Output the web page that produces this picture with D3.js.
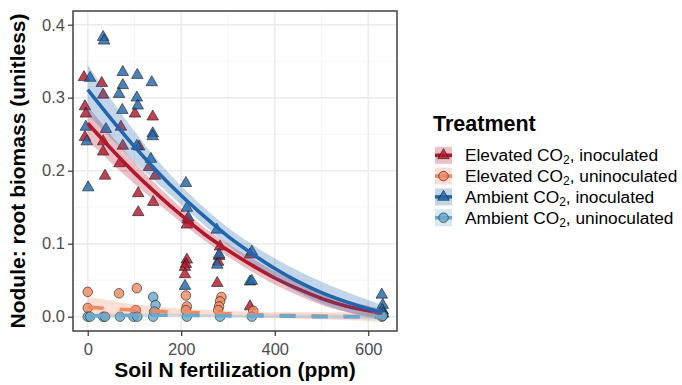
<!DOCTYPE html>
<html><head><meta charset="utf-8">
<script src="https://cdn.jsdelivr.net/npm/d3@7"></script>
<style>body{margin:0;background:#fff}svg{display:block;font-family:"Liberation Sans",Arial,sans-serif}</style>
</head><body><div id="chart"></div>
<script>
// ---- data ----
const categories = ["Elevated CO2, inoculated","Elevated CO2, uninoculated","Ambient CO2, inoculated","Ambient CO2, uninoculated"];
const seriesColors = ["#B2182B","#EF8A62","#2166AC","#67A9CF"];
const seriesShapes = ["triangle","circle","triangle","circle"];
const xTicks = [0,200,400,600];
const yTicks = [0.0,0.1,0.2,0.3,0.4];
const yTickLabels = ["0.0","0.1","0.2","0.3","0.4"];

// points [soil N (ppm, jittered as drawn), nodule:root biomass]
const elevInocPts = [[-8,0.328],[30,0.320],[33,0.304],[-6,0.288],[-4,0.278],[101,0.278],[139,0.274],[71,0.260],[-6,0.246],[33,0.240],[75,0.234],[110,0.233],[33,0.226],[68,0.210],[131,0.205],[37,0.193],[144,0.193],[108,0.169],[140,0.157],[108,0.143],[212,0.126],[214,0.133],[283,0.096],[281,0.083],[347,0.085],[212,0.078],[279,0.075],[210,0.072],[208,0.068],[208,0.058],[277,0.046],[347,0.014],[629,0.004],[631,0.008],[627,0.002]];
const elevUninocPts = [[0,0.034],[67,0.032],[105,0.039],[0,0.012],[103,0.009],[144,0.007],[210,0.029],[212,0.014],[210,0.009],[286,0.027],[283,0.021],[281,0.014],[279,0.009],[354,0.008],[630,0.002]];
const ambInocPts = [[33,0.383],[35,0.378],[5,0.327],[75,0.335],[106,0.331],[137,0.321],[75,0.317],[67,0.305],[105,0.300],[107,0.289],[74,0.283],[-4,0.260],[39,0.257],[139,0.251],[139,0.247],[-2,0.240],[105,0.234],[135,0.216],[1,0.177],[210,0.183],[212,0.149],[215,0.136],[276,0.119],[281,0.085],[351,0.089],[277,0.071],[208,0.042],[347,0.048],[351,0.049],[629,0.030],[631,0.016],[630,0.009],[632,0.004]];
const ambUninocPts = [[0,0],[5,0],[33,0],[37,0],[69,0],[98,0],[106,0],[140,0],[140,0.027],[145,0.016],[142,0.007],[212,0],[283,0],[351,0],[629,0],[631,0.001]];

// fitted smooths: x, fit, half-width of ribbon
const fitN = [0,50,100,150,200,250,300,350,400,450,500,550,600,630];
const elevInocFit   = [0.265,0.230,0.197,0.167,0.139,0.113,0.091,0.071,0.053,0.038,0.025,0.015,0.008,0.004];
const elevInocSe    = [0.024,0.019,0.015,0.012,0.010,0.009,0.009,0.009,0.009,0.009,0.009,0.008,0.007,0.006];
const elevUninocFit = [0.013,0.011,0.009,0.0075,0.006,0.005,0.004,0.003,0.002,0.0015,0.001,0.0005,0.000,0.000];
const elevUninocSe  = [0.014,0.011,0.008,0.006,0.005,0.0045,0.004,0.004,0.004,0.0045,0.005,0.0055,0.006,0.007];
const ambInocFit    = [0.311,0.271,0.233,0.198,0.166,0.137,0.110,0.087,0.066,0.048,0.033,0.021,0.011,0.006];
const ambInocSe     = [0.034,0.027,0.021,0.016,0.013,0.012,0.012,0.013,0.014,0.015,0.015,0.014,0.012,0.010];
const ambUninocFit  = [0.001,0.0015,0.002,0.002,0.002,0.0015,0.001,0.001,0.001,0.0005,0.000,0.000,0.000,0.000];
const ambUninocSe   = [0.003,0.0025,0.002,0.002,0.002,0.002,0.002,0.002,0.002,0.002,0.0025,0.003,0.0035,0.004];

const xTitle = "Soil N fertilization (ppm)";
const yTitle = "Nodule: root biomass (unitless)";
const legendTitle = "Treatment";

// ---- build ----
const W=682,H=385;
const panel={l:73,r:397,t:11,b:331};
const svg=d3.select("#chart").append("svg").attr("width",W).attr("height",H);
const x=d3.scaleLinear().domain([-31.5,661.5]).range([panel.l,panel.r]);
const y=d3.scaleLinear().domain([-0.0196,0.4188]).range([panel.b,panel.t]);

const g=svg.append("g");
// grid
const xMinor=[100,300,500], yMinor=[0.05,0.15,0.25,0.35];
g.selectAll(".xmin").data(xMinor).join("line").attr("x1",d=>x(d)).attr("x2",d=>x(d)).attr("y1",panel.t).attr("y2",panel.b).attr("stroke","#f2f2f2").attr("stroke-width",0.8);
g.selectAll(".ymin").data(yMinor).join("line").attr("y1",d=>y(d)).attr("y2",d=>y(d)).attr("x1",panel.l).attr("x2",panel.r).attr("stroke","#f2f2f2").attr("stroke-width",0.8);
g.selectAll(".xmaj").data(xTicks).join("line").attr("x1",d=>x(d)).attr("x2",d=>x(d)).attr("y1",panel.t).attr("y2",panel.b).attr("stroke","#ebebeb").attr("stroke-width",1.5);
g.selectAll(".ymaj").data(yTicks).join("line").attr("y1",d=>y(d)).attr("y2",d=>y(d)).attr("x1",panel.l).attr("x2",panel.r).attr("stroke","#ebebeb").attr("stroke-width",1.5);

const clip=svg.append("clipPath").attr("id","clp").append("rect").attr("x",panel.l).attr("y",panel.t).attr("width",panel.r-panel.l).attr("height",panel.b-panel.t);
const plot=svg.append("g").attr("clip-path","url(#clp)");

const allPts=[elevInocPts,elevUninocPts,ambInocPts,ambUninocPts];
const fits=[elevInocFit,elevUninocFit,ambInocFit,ambUninocFit];
const ses=[elevInocSe,elevUninocSe,ambInocSe,ambUninocSe];
const triSym=d3.symbol().type(d3.symbolTriangle).size(58);
const cirSym=d3.symbol().type(d3.symbolCircle).size(72);

allPts.forEach((pts,i)=>{
  plot.append("g").selectAll("path").data(pts).join("path")
    .attr("d",seriesShapes[i]==="triangle"?triSym():cirSym())
    .attr("transform",d=>`translate(${x(d[0])},${y(d[1])})`)
    .attr("fill",seriesColors[i]).attr("fill-opacity",0.82)
    .attr("stroke","#1a1a1a").attr("stroke-width",0.6);
});

const area=d3.area().x(d=>x(d.n)).y0(d=>y(d.f-d.s)).y1(d=>y(d.f+d.s)).curve(d3.curveMonotoneX);
const line=d3.line().x(d=>x(d.n)).y(d=>y(d.f)).curve(d3.curveMonotoneX);
fits.forEach((f,i)=>{
  const data=fitN.map((n,k)=>({n:n,f:f[k],s:ses[i][k]}));
  plot.append("path").datum(data).attr("d",area).attr("fill",seriesColors[i]).attr("fill-opacity",0.27);
  plot.append("path").datum(data).attr("d",line).attr("fill","none").attr("stroke",seriesColors[i])
    .attr("stroke-width",3.6).attr("stroke-dasharray",i%2===1?"16,16":null);
});

// border
svg.append("rect").attr("x",panel.l).attr("y",panel.t).attr("width",panel.r-panel.l).attr("height",panel.b-panel.t).attr("fill","none").attr("stroke","#333").attr("stroke-width",1.4);

// axes
const xAxis=svg.append("g").attr("transform",`translate(0,${panel.b})`).call(d3.axisBottom(x).tickValues(xTicks).tickSize(5).tickPadding(3));
const yAxis=svg.append("g").attr("transform",`translate(${panel.l},0)`).call(d3.axisLeft(y).tickValues(yTicks).tickFormat((d,i)=>yTickLabels[i]).tickSize(5).tickPadding(3));
[xAxis,yAxis].forEach(a=>{a.select(".domain").remove();a.selectAll("line").attr("stroke","#333").attr("stroke-width",1.2);
  a.selectAll("text").attr("fill","#4d4d4d").style("font-size","16.5px").style("font-family","Liberation Sans, Arial, sans-serif");});
xAxis.selectAll("text").attr("dy","0.95em");

svg.append("text").attr("x",(panel.l+panel.r)/2).attr("y",377).attr("text-anchor","middle").style("font-size","21px").style("font-weight","bold").text(xTitle);
svg.append("text").attr("transform",`translate(25,${(panel.t+panel.b)/2}) rotate(-90)`).attr("text-anchor","middle").style("font-size","21px").style("font-weight","bold").text(yTitle);

// legend
const lg=svg.append("g");
lg.append("text").attr("x",433).attr("y",131).style("font-size","21.5px").style("font-weight","bold").text(legendTitle);
categories.forEach((c,i)=>{
  const cy=155.3+i*20.8;
  const k=lg.append("g");
  k.append("rect").attr("x",435).attr("y",cy-8.5).attr("width",17).attr("height",17).attr("fill",seriesColors[i]).attr("fill-opacity",0.27);
  k.append("line").attr("x1",435).attr("x2",452).attr("y1",cy).attr("y2",cy).attr("stroke",seriesColors[i]).attr("stroke-width",3.6);
  k.append("path").attr("d",seriesShapes[i]==="triangle"?triSym():cirSym()).attr("transform",`translate(443.5,${cy})`)
    .attr("fill",seriesColors[i]).attr("fill-opacity",0.82).attr("stroke","#1a1a1a").attr("stroke-width",0.6);
  const parts=c.split("CO2");
  const t=lg.append("text").attr("x",465).attr("y",cy+6).style("font-size","17.3px");
  t.append("tspan").text(parts[0]+"CO");
  t.append("tspan").attr("baseline-shift","-25%").style("font-size","12px").text("2");
  t.append("tspan").text(parts[1]);
});
</script></body></html>
